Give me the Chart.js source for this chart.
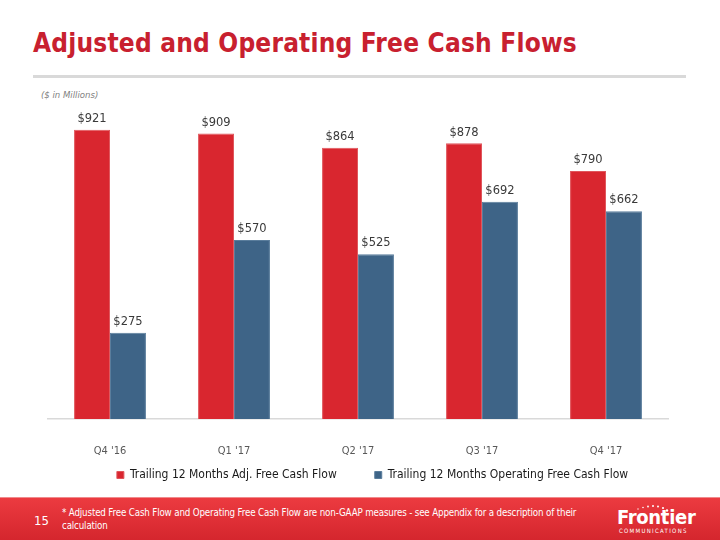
<!DOCTYPE html>
<html>
<head>
<meta charset="utf-8">
<script src="https://cdn.jsdelivr.net/npm/chart.js@4"></script>
<style>
  body { margin: 0; width: 720px; height: 540px; position: relative; overflow: hidden; background: #fff; font-family: "DejaVu Sans Condensed", "DejaVu Sans", sans-serif; }
  #title { position: absolute; left: 33px; top: 28px; font-size: 26px; font-weight: bold; color: #c8202f; letter-spacing: 0.2px; }
  #rule { position: absolute; left: 33px; top: 75px; width: 653px; height: 3px; background: #d9d9d9; }
  #unit { position: absolute; left: 41px; top: 89px; font-size: 9.5px; font-style: italic; color: #7f7f7f; }
  #wrap { position: absolute; left: 0; top: 100px; width: 720px; height: 395px; }
  #footer { position: absolute; left: 0; top: 497px; width: 720px; height: 43px; background: linear-gradient(#ec3b40, #d4252d); border-top: 1px solid #f08a8c; color: #fff; }
  #page { position: absolute; left: 34px; top: 15px; font-size: 13px; }
  #note { position: absolute; left: 62px; top: 8px; width: 522px; font-size: 9.7px; line-height: 13px; letter-spacing: -0.15px; }
  #logo { position: absolute; left: 617px; top: 7px; font-size: 20px; font-weight: bold; letter-spacing: -0.3px; }
  #logo2 { position: absolute; left: 619px; top: 29px; font-size: 6px; letter-spacing: 1.3px; font-family: "DejaVu Sans Condensed", sans-serif; }
  #dots { position: absolute; left: 636px; top: 6px; }
</style>
</head>
<body>
<div id="title">Adjusted and Operating Free Cash Flows</div>
<div id="rule"></div>
<div id="unit">($ in Millions)</div>
<div id="wrap"><canvas id="bar-chart"></canvas></div>
<div id="footer">
  <div id="page">15</div>
  <div id="note">* Adjusted Free Cash Flow and Operating Free Cash Flow are non-GAAP measures - see Appendix for a description of their calculation</div>
  <svg id="dots" width="36" height="10">
    <circle cx="2" cy="5" r="0.7" fill="#fff"/><circle cx="7" cy="3.5" r="0.8" fill="#fff"/>
    <circle cx="12" cy="2.5" r="0.9" fill="#fff"/><circle cx="17" cy="2" r="1" fill="#fff"/>
    <circle cx="22" cy="2.5" r="1" fill="#fff"/><circle cx="27" cy="4" r="1.1" fill="#fff"/>
    <circle cx="31" cy="6.5" r="1.2" fill="#fff"/>
  </svg>
  <div id="logo">Frontier</div>
  <div id="logo2">COMMUNICATIONS</div>
</div>
<script>
var quarters = ["Q4 '16", "Q1 '17", "Q2 '17", "Q3 '17", "Q4 '17"];
var adjFreeCashFlow = [921, 909, 864, 878, 790];
var operatingFreeCashFlow = [275, 570, 525, 692, 662];

Chart.defaults.font.family = '"DejaVu Sans Condensed", "DejaVu Sans", sans-serif';
Chart.defaults.color = '#595959';

// draws the "$xxx" labels above each bar
var valueLabels = {
    id: 'valueLabels',
    afterDatasetsDraw: function(chart) {
        var ctx = chart.ctx;
        ctx.save();
        ctx.font = '11.5px "DejaVu Sans", sans-serif';
        ctx.fillStyle = '#3a3a3a';
        ctx.textAlign = 'center';
        ctx.textBaseline = 'bottom';
        chart.data.datasets.forEach(function(ds, i) {
            chart.getDatasetMeta(i).data.forEach(function(bar, j) {
                ctx.fillText('$' + ds.data[j], bar.x, bar.y - 5);
            });
        });
        ctx.restore();
    }
};

var chart = new Chart(document.getElementById("bar-chart"), {
    type: 'bar',
    data: {
        labels: quarters,
        datasets: [
            {
                label: "Trailing 12 Months Adj. Free Cash Flow",
                backgroundColor: '#d9262f',
                borderColor: '#e0565c',
                borderWidth: 1,
                data: adjFreeCashFlow
            },
            {
                label: "Trailing 12 Months Operating Free Cash Flow",
                backgroundColor: '#3e6487',
                borderColor: '#5a7d9c',
                borderWidth: 1,
                data: operatingFreeCashFlow
            }
        ]
    },
    options: {
        responsive: true,
        maintainAspectRatio: false,
        animation: false,
        categoryPercentage: 0.58,
        barPercentage: 1.0,
        layout: { padding: { left: 48, right: 23, top: 5, bottom: 4 } },
        scales: {
            x: {
                grid: { display: false },
                border: { color: '#d9d9d9', width: 1.5 },
                ticks: { color: '#595959', font: { size: 11 }, padding: 18 },
                afterFit: function(axis) { axis.height = 39; }
            },
            // invisible axis on the right, only keeps the legend centred like the original
            y: {
                position: 'right', min: 0, max: 1000,
                grid: { display: false }, border: { display: false },
                ticks: { display: false },
                afterFit: function(axis) { axis.width = 29; }
            }
        },
        plugins: {
            legend: {
                position: 'bottom',
                labels: {
                    boxWidth: 7, boxHeight: 7, color: '#1a1a1a', font: { size: 12 }, padding: 11,
                    generateLabels: function(chart) {
                        var items = Chart.defaults.plugins.legend.labels.generateLabels(chart);
                        items[0].text += '\u2003\u2003\u2002';
                        return items;
                    }
                }
            },
            tooltip: { enabled: false }
        }
    },
    plugins: [valueLabels]
});
</script>
</body>
</html>
